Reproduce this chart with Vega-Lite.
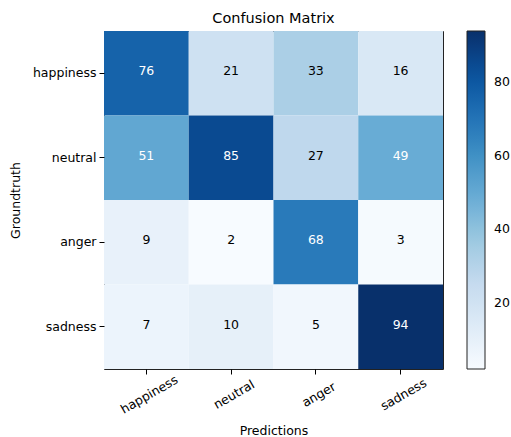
{
  "$schema": "https://vega.github.io/schema/vega-lite/v6.json",
  "width": 339,
  "height": 338,
  "autosize": {"type": "none"},
  "padding": {"left": 104, "top": 31, "right": 68, "bottom": 68},
  "title": {"text": "Confusion Matrix", "fontSize": 14.5, "font": "DejaVu Sans", "fontWeight": "normal", "color": "#000", "offset": 5},
  "data": {"values": [
    {"truth": "happiness", "pred": "happiness", "v": 76},
    {"truth": "happiness", "pred": "neutral", "v": 21},
    {"truth": "happiness", "pred": "anger", "v": 33},
    {"truth": "happiness", "pred": "sadness", "v": 16},
    {"truth": "neutral", "pred": "happiness", "v": 51},
    {"truth": "neutral", "pred": "neutral", "v": 85},
    {"truth": "neutral", "pred": "anger", "v": 27},
    {"truth": "neutral", "pred": "sadness", "v": 49},
    {"truth": "anger", "pred": "happiness", "v": 9},
    {"truth": "anger", "pred": "neutral", "v": 2},
    {"truth": "anger", "pred": "anger", "v": 68},
    {"truth": "anger", "pred": "sadness", "v": 3},
    {"truth": "sadness", "pred": "happiness", "v": 7},
    {"truth": "sadness", "pred": "neutral", "v": 10},
    {"truth": "sadness", "pred": "anger", "v": 5},
    {"truth": "sadness", "pred": "sadness", "v": 94}
  ]},
  "encoding": {
    "x": {"field": "pred", "type": "nominal", "sort": ["happiness", "neutral", "anger", "sadness"],
      "axis": {"title": "Predictions", "labelAngle": -30, "labelAlign": "center", "labelBaseline": "top", "labelPadding": 15, "titlePadding": 9}},
    "y": {"field": "truth", "type": "nominal", "sort": ["happiness", "neutral", "anger", "sadness"],
      "axis": {"title": "Groundtruth", "titlePadding": 10, "labelPadding": 3}}
  },
  "layer": [
    {"mark": {"type": "rect"},
     "encoding": {
       "color": {"field": "v", "type": "quantitative",
         "scale": {"domain": [2, 13.5, 25, 36.5, 48, 59.5, 71, 82.5, 94],
           "range": ["#f7fbff", "#deebf7", "#c6dbef", "#9ecae1", "#6baed6", "#4292c6", "#2171b5", "#08519c", "#08306b"]},
         "legend": {"title": null, "orient": "none", "legendX": 363, "legendY": 0, "direction": "vertical",
           "gradientLength": 338, "gradientThickness": 18, "gradientStrokeColor": "#222", "gradientStrokeWidth": 1,
           "values": [20, 40, 60, 80], "labelFontSize": 12.5, "labelFont": "DejaVu Sans", "labelColor": "#000", "labelOffset": 9}
       }}},
    {"mark": {"type": "text", "fontSize": 12.5, "font": "DejaVu Sans", "dy": -2},
     "encoding": {
       "text": {"field": "v", "type": "quantitative"},
       "color": {"condition": {"test": "datum.v > 47", "value": "white"}, "value": "black"}
     }}
  ],
  "config": {
    "view": {"stroke": "#222", "strokeWidth": 1},
    "scale": {"bandPaddingInner": 0, "bandPaddingOuter": 0},
    "axis": {"labelFont": "DejaVu Sans", "titleFont": "DejaVu Sans", "labelFontSize": 12.5, "titleFontSize": 12.5,
      "titleFontWeight": "normal", "labelColor": "#000", "titleColor": "#000", "tickColor": "#000", "domain": false,
      "grid": false, "tickSize": 5}
  }
}
